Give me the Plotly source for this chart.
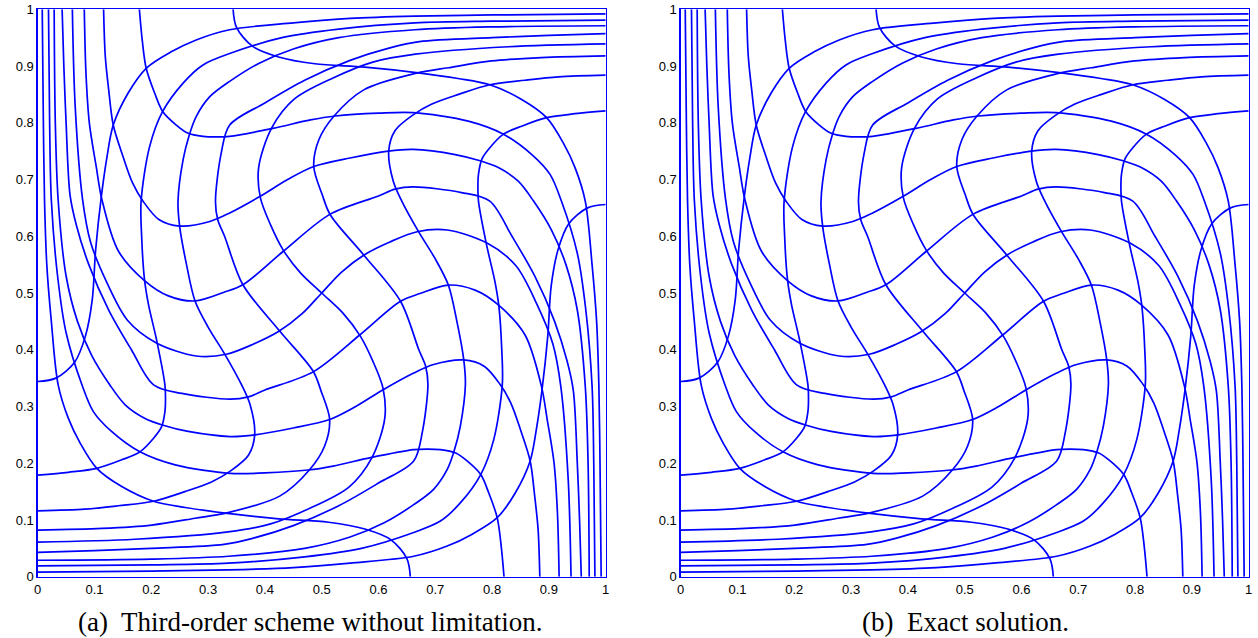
import plotly.graph_objects as go

# ---- data ----
ticks = [0, 0.1, 0.2, 0.3, 0.4, 0.5, 0.6, 0.7, 0.8, 0.9, 1]
tick_text = ["0", "0.1", "0.2", "0.3", "0.4", "0.5", "0.6", "0.7", "0.8", "0.9", "1"]

# deformed "vertical" grid lines (bottom edge -> top edge)
V1_x = [0.656, 0.650, 0.622, 0.576, 0.512, 0.424, 0.330, 0.260, 0.204, 0.148, 0.104, 0.075, 0.054, 0.036, 0.024, 0.016, 0.012, 0.010, 0.008]
V1_y = [0.000, 0.032, 0.065, 0.084, 0.096, 0.102, 0.112, 0.122, 0.133, 0.159, 0.191, 0.235, 0.279, 0.338, 0.450, 0.550, 0.664, 0.800, 1.000]
V2_x = [0.821, 0.816, 0.809, 0.794, 0.780, 0.756, 0.736, 0.709, 0.686, 0.662, 0.586, 0.520, 0.476, 0.400, 0.339, 0.242, 0.180, 0.130, 0.098, 0.078, 0.050, 0.035, 0.024, 0.021, 0.019]
V2_y = [0.000, 0.054, 0.104, 0.148, 0.180, 0.204, 0.218, 0.224, 0.225, 0.224, 0.210, 0.195, 0.188, 0.183, 0.182, 0.197, 0.220, 0.256, 0.291, 0.338, 0.430, 0.530, 0.664, 0.800, 1.000]
V3_x = [0.884, 0.881, 0.875, 0.867, 0.850, 0.833, 0.814, 0.786, 0.750, 0.697, 0.662, 0.609, 0.560, 0.514, 0.450, 0.383, 0.339, 0.265, 0.221, 0.189, 0.154, 0.127, 0.095, 0.070, 0.050, 0.036, 0.031, 0.029]
V3_y = [0.000, 0.083, 0.142, 0.204, 0.259, 0.306, 0.339, 0.371, 0.382, 0.374, 0.359, 0.330, 0.300, 0.277, 0.262, 0.250, 0.247, 0.256, 0.267, 0.279, 0.303, 0.338, 0.390, 0.450, 0.530, 0.664, 0.800, 1.000]
V4_x = [0.918, 0.915, 0.909, 0.897, 0.887, 0.858, 0.811, 0.770, 0.723, 0.673, 0.638, 0.567, 0.485, 0.400, 0.371, 0.339, 0.254, 0.204, 0.165, 0.125, 0.090, 0.068, 0.057, 0.050, 0.046, 0.043]
V4_y = [0.000, 0.113, 0.201, 0.277, 0.335, 0.426, 0.479, 0.505, 0.514, 0.499, 0.485, 0.426, 0.361, 0.329, 0.317, 0.313, 0.323, 0.338, 0.400, 0.470, 0.550, 0.620, 0.672, 0.800, 0.900, 1.000]
V5_x = [0.939, 0.934, 0.921, 0.907, 0.879, 0.842, 0.791, 0.721, 0.668, 0.620, 0.576, 0.535, 0.500, 0.465, 0.424, 0.380, 0.332, 0.279, 0.209, 0.158, 0.121, 0.093, 0.079, 0.066, 0.061]
V5_y = [0.000, 0.171, 0.335, 0.410, 0.480, 0.548, 0.588, 0.611, 0.608, 0.590, 0.568, 0.537, 0.500, 0.463, 0.432, 0.410, 0.392, 0.389, 0.412, 0.452, 0.520, 0.590, 0.665, 0.829, 1.000]
V6_x = [0.082, 0.085, 0.091, 0.103, 0.113, 0.142, 0.189, 0.230, 0.277, 0.327, 0.362, 0.433, 0.515, 0.600, 0.629, 0.661, 0.746, 0.796, 0.835, 0.875, 0.910, 0.932, 0.943, 0.950, 0.954, 0.957]
V6_y = [1.000, 0.887, 0.799, 0.723, 0.665, 0.574, 0.521, 0.495, 0.486, 0.501, 0.515, 0.574, 0.639, 0.671, 0.683, 0.687, 0.677, 0.662, 0.600, 0.530, 0.450, 0.380, 0.328, 0.200, 0.100, 0.000]
V7_x = [0.116, 0.119, 0.125, 0.133, 0.150, 0.167, 0.186, 0.214, 0.250, 0.303, 0.338, 0.391, 0.440, 0.486, 0.550, 0.617, 0.661, 0.735, 0.779, 0.811, 0.846, 0.873, 0.905, 0.930, 0.950, 0.964, 0.969, 0.971]
V7_y = [1.000, 0.917, 0.858, 0.796, 0.741, 0.694, 0.661, 0.629, 0.618, 0.626, 0.641, 0.670, 0.700, 0.723, 0.738, 0.750, 0.753, 0.744, 0.733, 0.721, 0.697, 0.662, 0.610, 0.550, 0.470, 0.336, 0.200, 0.000]
V8_x = [0.179, 0.184, 0.191, 0.206, 0.220, 0.244, 0.264, 0.291, 0.314, 0.338, 0.414, 0.480, 0.524, 0.600, 0.661, 0.758, 0.820, 0.870, 0.902, 0.922, 0.950, 0.965, 0.976, 0.979, 0.981]
V8_y = [1.000, 0.946, 0.896, 0.852, 0.820, 0.796, 0.782, 0.776, 0.775, 0.776, 0.790, 0.805, 0.812, 0.817, 0.818, 0.803, 0.780, 0.744, 0.709, 0.662, 0.570, 0.470, 0.336, 0.200, 0.000]
V9_x = [0.344, 0.350, 0.378, 0.424, 0.488, 0.576, 0.670, 0.740, 0.796, 0.852, 0.896, 0.925, 0.946, 0.964, 0.976, 0.984, 0.988, 0.990, 0.992]
V9_y = [1.000, 0.968, 0.935, 0.916, 0.904, 0.898, 0.888, 0.878, 0.867, 0.841, 0.809, 0.765, 0.721, 0.662, 0.550, 0.450, 0.336, 0.200, 0.000]

# deformed "horizontal" grid lines (left edge -> right edge)
H1_x = [0.000, 0.032, 0.065, 0.084, 0.096, 0.102, 0.112, 0.122, 0.133, 0.159, 0.191, 0.235, 0.279, 0.338, 0.450, 0.550, 0.664, 0.800, 1.000]
H1_y = [0.344, 0.350, 0.378, 0.424, 0.488, 0.576, 0.670, 0.740, 0.796, 0.852, 0.896, 0.925, 0.946, 0.964, 0.976, 0.984, 0.988, 0.990, 0.992]
H2_x = [0.000, 0.054, 0.104, 0.148, 0.180, 0.204, 0.218, 0.224, 0.225, 0.224, 0.210, 0.195, 0.188, 0.183, 0.182, 0.197, 0.220, 0.256, 0.291, 0.338, 0.430, 0.530, 0.664, 0.800, 1.000]
H2_y = [0.179, 0.184, 0.191, 0.206, 0.220, 0.244, 0.264, 0.291, 0.314, 0.338, 0.414, 0.480, 0.524, 0.600, 0.661, 0.758, 0.820, 0.870, 0.902, 0.922, 0.950, 0.965, 0.976, 0.979, 0.981]
H3_x = [0.000, 0.083, 0.142, 0.204, 0.259, 0.306, 0.339, 0.371, 0.382, 0.374, 0.359, 0.330, 0.300, 0.277, 0.262, 0.250, 0.247, 0.256, 0.267, 0.279, 0.303, 0.338, 0.390, 0.450, 0.530, 0.664, 0.800, 1.000]
H3_y = [0.116, 0.119, 0.125, 0.133, 0.150, 0.167, 0.186, 0.214, 0.250, 0.303, 0.338, 0.391, 0.440, 0.486, 0.550, 0.617, 0.661, 0.735, 0.779, 0.811, 0.846, 0.873, 0.905, 0.930, 0.950, 0.964, 0.969, 0.971]
H4_x = [0.000, 0.113, 0.201, 0.277, 0.335, 0.426, 0.479, 0.505, 0.514, 0.499, 0.485, 0.426, 0.361, 0.329, 0.317, 0.313, 0.323, 0.338, 0.400, 0.470, 0.550, 0.620, 0.672, 0.800, 0.900, 1.000]
H4_y = [0.082, 0.085, 0.091, 0.103, 0.113, 0.142, 0.189, 0.230, 0.277, 0.327, 0.362, 0.433, 0.515, 0.600, 0.629, 0.661, 0.746, 0.796, 0.835, 0.875, 0.910, 0.932, 0.943, 0.950, 0.954, 0.957]
H5_x = [0.000, 0.171, 0.335, 0.410, 0.480, 0.548, 0.588, 0.611, 0.608, 0.590, 0.568, 0.537, 0.500, 0.463, 0.432, 0.410, 0.392, 0.389, 0.412, 0.452, 0.520, 0.590, 0.665, 0.829, 1.000]
H5_y = [0.061, 0.066, 0.079, 0.093, 0.121, 0.158, 0.209, 0.279, 0.332, 0.380, 0.424, 0.465, 0.500, 0.535, 0.576, 0.620, 0.668, 0.721, 0.791, 0.842, 0.879, 0.907, 0.921, 0.934, 0.939]
H6_x = [1.000, 0.887, 0.799, 0.723, 0.665, 0.574, 0.521, 0.495, 0.486, 0.501, 0.515, 0.574, 0.639, 0.671, 0.683, 0.687, 0.677, 0.662, 0.600, 0.530, 0.450, 0.380, 0.328, 0.200, 0.100, 0.000]
H6_y = [0.918, 0.915, 0.909, 0.897, 0.887, 0.858, 0.811, 0.770, 0.723, 0.673, 0.638, 0.567, 0.485, 0.400, 0.371, 0.339, 0.254, 0.204, 0.165, 0.125, 0.090, 0.068, 0.057, 0.050, 0.046, 0.043]
H7_x = [1.000, 0.917, 0.858, 0.796, 0.741, 0.694, 0.661, 0.629, 0.618, 0.626, 0.641, 0.670, 0.700, 0.723, 0.738, 0.750, 0.753, 0.744, 0.733, 0.721, 0.697, 0.662, 0.610, 0.550, 0.470, 0.336, 0.200, 0.000]
H7_y = [0.884, 0.881, 0.875, 0.867, 0.850, 0.833, 0.814, 0.786, 0.750, 0.697, 0.662, 0.609, 0.560, 0.514, 0.450, 0.383, 0.339, 0.265, 0.221, 0.189, 0.154, 0.127, 0.095, 0.070, 0.050, 0.036, 0.031, 0.029]
H8_x = [1.000, 0.946, 0.896, 0.852, 0.820, 0.796, 0.782, 0.776, 0.775, 0.776, 0.790, 0.805, 0.812, 0.817, 0.818, 0.803, 0.780, 0.744, 0.709, 0.662, 0.570, 0.470, 0.336, 0.200, 0.000]
H8_y = [0.821, 0.816, 0.809, 0.794, 0.780, 0.756, 0.736, 0.709, 0.686, 0.662, 0.586, 0.520, 0.476, 0.400, 0.339, 0.242, 0.180, 0.130, 0.098, 0.078, 0.050, 0.035, 0.024, 0.021, 0.019]
H9_x = [1.000, 0.968, 0.935, 0.916, 0.904, 0.898, 0.888, 0.878, 0.867, 0.841, 0.809, 0.765, 0.721, 0.662, 0.550, 0.450, 0.336, 0.200, 0.000]
H9_y = [0.656, 0.650, 0.622, 0.576, 0.512, 0.424, 0.330, 0.260, 0.204, 0.148, 0.104, 0.075, 0.054, 0.036, 0.024, 0.016, 0.012, 0.010, 0.008]

curves = [(V1_x, V1_y), (V2_x, V2_y), (V3_x, V3_y), (V4_x, V4_y), (V5_x, V5_y),
          (V6_x, V6_y), (V7_x, V7_y), (V8_x, V8_y), (V9_x, V9_y),
          (H1_x, H1_y), (H2_x, H2_y), (H3_x, H3_y), (H4_x, H4_y), (H5_x, H5_y),
          (H6_x, H6_y), (H7_x, H7_y), (H8_x, H8_y), (H9_x, H9_y)]

captions = ["(a)  Third-order scheme without limitation.", "(b)  Exact solution."]

BLUE = "rgb(0,0,255)"
fig = go.Figure()
for panel in (1, 2):
    xa = "x" if panel == 1 else "x2"
    ya = "y" if panel == 1 else "y2"
    for cx, cy in curves:
        fig.add_trace(go.Scatter(x=cx, y=cy, mode="lines", xaxis=xa, yaxis=ya,
                                 line=dict(color=BLUE, width=1.7, shape="spline", smoothing=0.9),
                                 hoverinfo="skip", showlegend=False, cliponaxis=True))

axis_common = dict(range=[0, 1], tickvals=ticks, ticktext=tick_text, showgrid=False,
                   zeroline=False, showline=True, linecolor=BLUE, linewidth=1.3, mirror=True,
                   ticks="", automargin=False, ticklabeloverflow="allow",
                   tickfont=dict(family="Liberation Sans, Arial", size=13, color="black"),
                   fixedrange=True)
ydom = [(638 - 576.7) / 638, (638 - 9.3) / 638]
cap_font = dict(family="Liberation Serif, serif", size=27, color="black")
fig.update_layout(
    template="none",
    width=1258, height=638, margin=dict(l=0, r=0, t=0, b=0, pad=0),
    paper_bgcolor="white", plot_bgcolor="white", showlegend=False,
    xaxis=dict(domain=[37.7 / 1258, 605.7 / 1258], anchor="y", **axis_common),
    yaxis=dict(domain=ydom, anchor="x", **axis_common),
    xaxis2=dict(domain=[680.7 / 1258, 1248.7 / 1258], anchor="y2", **axis_common),
    yaxis2=dict(domain=ydom, anchor="x2", **axis_common),
    annotations=[
        dict(text=captions[0], x=309.5 / 1258, y=(638 - 622) / 638, xref="paper", yref="paper",
             showarrow=False, xanchor="center", yanchor="middle", font=cap_font),
        dict(text=captions[1], x=965 / 1258, y=(638 - 622) / 638, xref="paper", yref="paper",
             showarrow=False, xanchor="center", yanchor="middle", font=cap_font),
    ],
)
fig.write_html("out.html", config={"displayModeBar": False, "staticPlot": True},
               post_script="document.body.style.margin='0px';document.body.style.overflow='hidden';")
